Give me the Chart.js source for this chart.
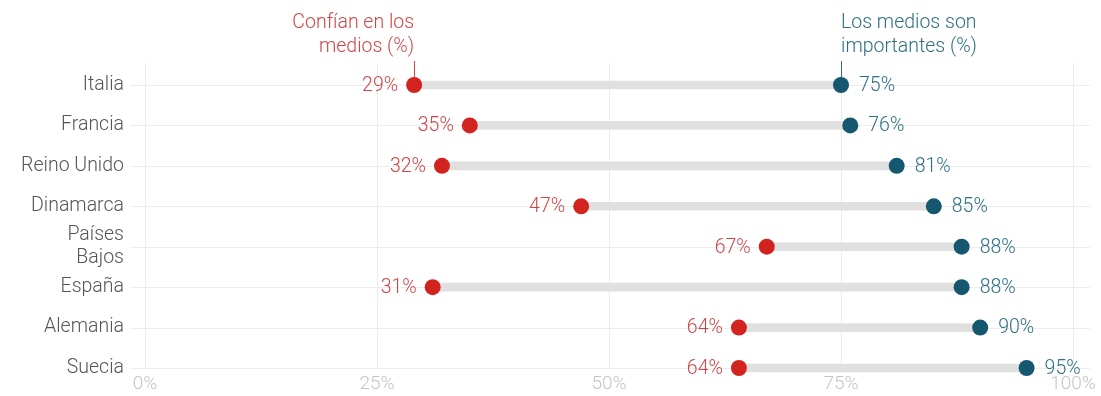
<!DOCTYPE html>
<html>
<head>
<meta charset="utf-8">
<script src="https://cdn.jsdelivr.net/npm/chart.js@4/dist/chart.umd.min.js"></script>
<style>
  html, body { margin: 0; padding: 0; background: #fff; }
  #wrap { width: 1101px; height: 396px; }
</style>
</head>
<body>
<div id="wrap"><canvas id="chart"></canvas></div>
<script>
const countries = ["Italia", "Francia", "Reino Unido", "Dinamarca", ["Países", "Bajos"], "España", "Alemania", "Suecia"];
const trust = [29, 35, 32, 47, 67, 31, 64, 64];
const important = [75, 76, 81, 85, 88, 88, 90, 95];
const xTicks = [0, 25, 50, 75, 100];

const RED = "#d3231f";
const RED_TEXT = "#cf4548";
const BLUE = "#15576e";
const BLUE_TEXT = "#2e6f86";
const FONT = "Roboto, 'Open Sans', sans-serif";

// grid lines drawn by hand so they can run past the plot area a little
const gridPlugin = {
  id: "grid",
  beforeDatasetsDraw(chart) {
    const { ctx, chartArea, scales } = chart;
    ctx.save();
    ctx.lineWidth = 1;
    ctx.strokeStyle = "#ededed";
    xTicks.forEach(t => {
      const x = Math.round(scales.x.getPixelForValue(t)) + 0.5;
      ctx.beginPath();
      ctx.moveTo(x, chartArea.top - 22);
      ctx.lineTo(x, chartArea.bottom);
      ctx.stroke();
    });
    countries.forEach((c, i) => {
      const y = Math.round(scales.y.getPixelForValue(i)) + 0.5;
      ctx.beginPath();
      ctx.moveTo(chartArea.left - 15, y);
      ctx.lineTo(chartArea.right + 17, y);
      ctx.stroke();
    });
    ctx.restore();
  }
};

const labelPlugin = {
  id: "labels",
  afterDatasetsDraw(chart) {
    const { ctx, scales } = chart;
    ctx.save();
    ctx.font = "300 19.5px " + FONT;
    ctx.textBaseline = "middle";
    countries.forEach((c, i) => {
      const y = scales.y.getPixelForValue(i) + 1;
      ctx.fillStyle = RED_TEXT;
      ctx.textAlign = "right";
      ctx.fillText(trust[i] + "%", scales.x.getPixelForValue(trust[i]) - 16, y);
      ctx.fillStyle = BLUE_TEXT;
      ctx.textAlign = "left";
      ctx.fillText(important[i] + "%", scales.x.getPixelForValue(important[i]) + 18, y);
    });

    // series titles above the first row
    const y0 = scales.y.getPixelForValue(0);
    const rx = scales.x.getPixelForValue(trust[0]);
    const bx = scales.x.getPixelForValue(important[0]);
    ctx.fillStyle = RED_TEXT;
    ctx.textAlign = "right";
    ctx.fillText("Confían en los", rx, 23);
    ctx.fillText("medios (%)", rx, 47);
    ctx.fillStyle = BLUE_TEXT;
    ctx.textAlign = "left";
    ctx.fillText("Los medios son", bx, 23);
    ctx.fillText("importantes (%)", bx, 47);

    ctx.lineWidth = 1;
    ctx.strokeStyle = RED_TEXT;
    ctx.beginPath();
    ctx.moveTo(Math.round(rx) + 0.5, 61);
    ctx.lineTo(Math.round(rx) + 0.5, y0 - 8);
    ctx.stroke();
    ctx.strokeStyle = BLUE_TEXT;
    ctx.beginPath();
    ctx.moveTo(Math.round(bx) + 0.5, 61);
    ctx.lineTo(Math.round(bx) + 0.5, y0 - 8);
    ctx.stroke();
    ctx.restore();
  }
};

new Chart(document.getElementById("chart"), {
  data: {
    labels: countries,
    datasets: [
      {
        type: "line",
        data: important,
        showLine: false,
        pointRadius: 8,
        pointHoverRadius: 8,
        pointBackgroundColor: BLUE,
        pointBorderWidth: 0,
        clip: false,
        order: 0
      },
      {
        type: "line",
        data: trust,
        showLine: false,
        pointRadius: 8,
        pointHoverRadius: 8,
        pointBackgroundColor: RED,
        pointBorderWidth: 0,
        clip: false,
        order: 1
      },
      {
        type: "bar",
        data: trust.map((t, i) => [t, important[i]]),
        backgroundColor: "#e0e0e0",
        barThickness: 8,
        clip: false,
        order: 2
      }
    ]
  },
  options: {
    indexAxis: "y",
    responsive: true,
    maintainAspectRatio: false,
    animation: false,
    layout: { autoPadding: false, padding: { top: 85, right: 28, bottom: 0, left: 0 } },
    plugins: { legend: { display: false }, tooltip: { enabled: false } },
    scales: {
      x: {
        type: "linear",
        min: 0,
        max: 100,
        afterBuildTicks: scale => { scale.ticks = xTicks.map(v => ({ value: v })); },
        afterFit: scale => { scale.height = 28; scale.paddingLeft = 0; scale.paddingRight = 0; },
        grid: { display: false, drawTicks: false },
        border: { display: false },
        ticks: {
          color: "#c4c4c4",
          padding: 5,
          maxRotation: 0,
          font: { family: FONT, size: 19, weight: 300, lineHeight: 1.2 },
          callback: v => v + "%"
        }
      },
      y: {
        type: "category",
        offset: false,
        grid: { display: false, drawTicks: false },
        border: { display: false },
        afterFit: scale => { scale.width = 145; scale.paddingTop = 0; scale.paddingBottom = 0; },
        ticks: {
          color: "#555",
          padding: 21,
          autoSkip: false,
          font: { family: FONT, size: 19.5, weight: 300, lineHeight: 1.15 }
        }
      }
    }
  },
  plugins: [gridPlugin, labelPlugin]
});
</script>
</body>
</html>
